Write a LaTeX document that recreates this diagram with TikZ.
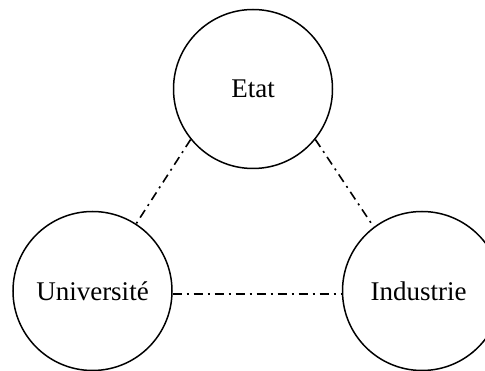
\documentclass[tikz,border=0pt]{standalone}
\usepackage{fontspec}
\setmainfont{Liberation Serif}
\begin{document}
\begin{tikzpicture}[x=1pt,y=-1pt,
  lbl/.style={font=\fontsize{27}{32}\selectfont},
  ring/.style={circle,draw=black,line width=1.5pt,minimum size=159pt,inner sep=0pt,lbl},
  link/.style={draw=black,line width=1.6pt,dash pattern=on 9pt off 5pt on 2pt off 5pt}]
\useasboundingbox (0,0) rectangle (485,371);
\node[ring] (etat) at (253,89) {Etat};
\node[ring] (univ) at (92.5,291) {Université};
\node[ring] (ind) at (422,291) {};
\node[lbl] (indtext) at (418.5,291) {Industrie};
\draw[link] (etat.219) -- (univ.57);
\draw[link] (etat.321) -- (ind.127);
\draw[link] (univ.-2) -- (ind.182);
\end{tikzpicture}
\end{document}
